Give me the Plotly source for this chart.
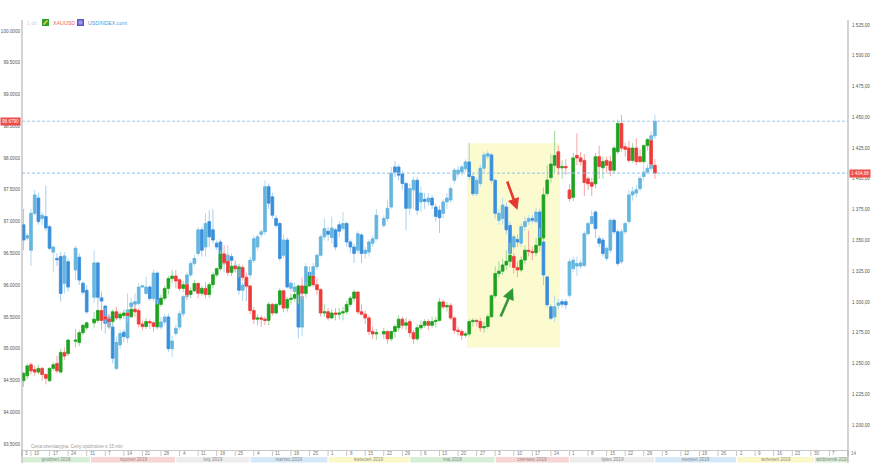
import numpy as np
import pandas as pd
import plotly.graph_objects as go

# ---------------- data ----------------
REF_DAY = np.datetime64("2018-12-10")


def day_index(d):
    return int(np.busday_count(REF_DAY, np.datetime64(pd.Timestamp(d).date())))


holidays = ["2018-12-25", "2019-01-01", "2019-04-19"]
dates = [d for d in pd.bdate_range("2018-12-06", "2019-08-01")
         if d.strftime("%Y-%m-%d") not in holidays]

gold_open = [
    1236, 1240,
    1249, 1245, 1243, 1246, 1241,
    1236, 1246, 1250, 1243, 1259,
    1258, 1268, 1267, 1275,
    1279, 1283, 1285, 1293,
    1288, 1286, 1284, 1292, 1287,
    1289, 1291, 1288, 1294, 1293,
    1282, 1280, 1284, 1283, 1280,
    1298, 1303, 1311, 1319, 1321,
    1318, 1311, 1314, 1306, 1309,
    1315, 1307, 1311, 1306, 1314,
    1322, 1327, 1339, 1333, 1324,
    1329, 1327, 1328, 1320, 1313,
    1293, 1286, 1287, 1286, 1285,
    1298, 1291, 1298, 1309, 1295,
    1302, 1303, 1306, 1313, 1307,
    1313, 1321, 1314, 1310, 1291,
    1292, 1287, 1291, 1290, 1291,
    1292, 1298, 1303, 1308, 1292,
    1290, 1287, 1276, 1274,
    1274, 1276, 1270, 1276, 1279,
    1286, 1281, 1284, 1275, 1270,
    1279, 1281, 1284, 1281, 1284,
    1285, 1300, 1296, 1297, 1287,
    1277, 1276, 1273, 1274, 1284,
    1285, 1284, 1279, 1280, 1288,
    1305, 1323, 1325, 1330, 1333,
    1337, 1328, 1326, 1334, 1342,
    1341, 1340, 1346, 1352, 1388,
    1401, 1411, 1422, 1409, 1410,
    1391, 1385, 1419, 1417, 1415,
    1400, 1397, 1396, 1418, 1409,
    1415, 1414, 1407, 1422, 1445,
    1426, 1425, 1415, 1425, 1418,
    1414, 1427, 1431, 1411,
]
gold_high = [
    1243, 1250,
    1251, 1248, 1249, 1247, 1242,
    1247, 1251, 1256, 1262, 1263,
    1270, 1278, 1277, 1282,
    1284, 1292, 1295, 1298,
    1295, 1290, 1294, 1296, 1292,
    1294, 1293, 1296, 1298, 1295,
    1285, 1287, 1286, 1284, 1302,
    1306, 1313, 1321, 1326, 1326,
    1319, 1317, 1315, 1312, 1318,
    1316, 1313, 1316, 1316, 1324,
    1328, 1342, 1346, 1339, 1332,
    1334, 1331, 1330, 1324, 1314,
    1296, 1290, 1289, 1288, 1300,
    1299, 1299, 1311, 1310, 1304,
    1307, 1309, 1314, 1320, 1316,
    1324, 1322, 1319, 1311, 1298,
    1295, 1294, 1295, 1295, 1296,
    1301, 1305, 1310, 1309, 1298,
    1293, 1289, 1280, 1278,
    1279, 1277, 1277, 1282, 1289,
    1288, 1287, 1286, 1277, 1282,
    1285, 1286, 1286, 1288, 1288,
    1303, 1302, 1300, 1299, 1288,
    1280, 1278, 1276, 1286, 1287,
    1286, 1287, 1284, 1290, 1306,
    1329, 1333, 1335, 1342, 1348,
    1340, 1333, 1337, 1346, 1358,
    1345, 1352, 1360, 1393, 1411,
    1420, 1439, 1427, 1415, 1416,
    1396, 1421, 1437, 1422, 1420,
    1402, 1401, 1421, 1427, 1418,
    1418, 1419, 1427, 1448, 1452,
    1429, 1431, 1429, 1433, 1424,
    1428, 1433, 1434, 1416,
]
gold_low = [
    1231, 1237,
    1241, 1240, 1241, 1236, 1233,
    1235, 1244, 1242, 1242, 1253,
    1256, 1263, 1264, 1273,
    1277, 1279, 1283, 1277,
    1283, 1279, 1281, 1285, 1285,
    1286, 1283, 1287, 1288, 1279,
    1277, 1278, 1278, 1276, 1279,
    1296, 1301, 1306, 1315, 1311,
    1309, 1308, 1302, 1303, 1308,
    1303, 1305, 1303, 1303, 1311,
    1320, 1325, 1330, 1321, 1321,
    1324, 1320, 1317, 1311, 1290,
    1282, 1281, 1280, 1281, 1281,
    1289, 1290, 1296, 1292, 1292,
    1298, 1300, 1298, 1302, 1305,
    1312, 1312, 1306, 1288, 1288,
    1285, 1286, 1285, 1286, 1285,
    1290, 1296, 1300, 1290, 1289,
    1282, 1273, 1270, 1269,
    1270, 1266, 1268, 1271, 1276,
    1278, 1277, 1271, 1266, 1268,
    1277, 1279, 1277, 1279, 1279,
    1284, 1294, 1292, 1285, 1274,
    1273, 1269, 1271, 1272, 1280,
    1280, 1276, 1275, 1278, 1287,
    1303, 1320, 1322, 1326, 1328,
    1323, 1320, 1324, 1331, 1337,
    1334, 1337, 1341, 1350, 1386,
    1397, 1405, 1403, 1400, 1403,
    1381, 1382, 1411, 1411, 1386,
    1391, 1386, 1392, 1400, 1400,
    1405, 1402, 1404, 1420, 1422,
    1418, 1413, 1413, 1411, 1413,
    1412, 1423, 1409, 1400,
]
gold_close = [
    1242, 1248,
    1244, 1243, 1246, 1241, 1238,
    1246, 1249, 1244, 1259, 1256,
    1269, 1269, 1275, 1281,
    1283, 1286, 1293, 1285,
    1286, 1284, 1292, 1287, 1290,
    1291, 1289, 1294, 1292, 1282,
    1280, 1284, 1283, 1280, 1298,
    1303, 1311, 1319, 1321, 1317,
    1311, 1314, 1306, 1309, 1315,
    1307, 1311, 1306, 1314, 1322,
    1327, 1339, 1332, 1324, 1329,
    1327, 1328, 1320, 1313, 1293,
    1286, 1287, 1286, 1285, 1298,
    1291, 1298, 1309, 1295, 1302,
    1303, 1306, 1313, 1307, 1313,
    1321, 1314, 1310, 1291, 1292,
    1287, 1291, 1290, 1291, 1292,
    1298, 1303, 1308, 1292, 1290,
    1287, 1276, 1274, 1275,
    1276, 1270, 1276, 1280, 1286,
    1281, 1283, 1275, 1270, 1279,
    1281, 1284, 1281, 1284, 1285,
    1300, 1296, 1297, 1287, 1277,
    1276, 1273, 1274, 1284, 1285,
    1284, 1279, 1280, 1288, 1305,
    1323, 1325, 1330, 1333, 1338,
    1328, 1326, 1334, 1342, 1341,
    1340, 1346, 1352, 1387, 1399,
    1412, 1419, 1409, 1410, 1409,
    1384, 1417, 1417, 1414, 1397,
    1396, 1394, 1418, 1410, 1414,
    1411, 1407, 1425, 1445, 1425,
    1424, 1415, 1425, 1414, 1414,
    1427, 1432, 1412, 1404.68,
]

usd_open = [
    96.95, 96.74,
    96.55, 97.13, 97.37, 97.05, 97.08,
    96.92, 96.52, 96.42, 96.45, 96.03,
    96.37, 96.24, 96.44, 96.03,
    95.92, 95.81, 96.35, 95.80,
    95.67, 95.34, 95.34, 94.69, 95.06,
    95.26, 95.17, 95.66, 95.70, 95.71,
    95.97, 95.87, 95.97, 95.79, 96.19,
    95.34, 95.42, 95.50, 95.00, 95.24,
    95.34, 95.55, 95.82, 96.16, 96.34,
    96.50, 96.87, 96.60, 97.00, 96.87,
    96.66, 96.68, 96.34, 96.24, 96.45,
    96.26, 96.29, 95.92, 96.05, 96.16,
    96.39, 96.60, 96.80, 96.84, 97.55,
    97.39, 97.05, 96.97, 96.47, 96.71,
    95.95, 95.90, 95.97, 95.34, 95.87,
    96.20, 96.08, 96.29, 96.47, 96.76,
    96.85, 96.75, 96.87, 96.95, 96.89,
    96.97, 96.68, 96.60, 96.55, 96.79,
    96.50, 96.52, 96.66, 96.73,
    96.94, 97.05, 97.23, 97.86, 97.86,
    97.75, 97.60, 97.21, 97.50, 97.65,
    97.31, 97.35, 97.31, 97.37, 97.23,
    97.18, 97.13, 97.31, 97.34, 97.65,
    97.75, 97.78, 97.83, 97.94, 97.71,
    97.44, 97.60, 97.84, 98.03, 98.05,
    97.65, 97.02, 97.05, 97.23, 96.94,
    96.60, 96.72, 96.66, 96.92, 97.00,
    97.05, 97.00, 97.15, 96.68, 96.13,
    95.66, 95.50, 95.68, 95.74, 95.74,
    95.84, 96.26, 96.30, 96.30, 96.31,
    96.81, 96.97, 97.15, 96.73, 96.71,
    96.42, 96.55, 97.02, 96.84, 96.37,
    96.84, 97.00, 97.42, 97.45, 97.52,
    97.71, 97.78, 97.84, 98.35,
]
usd_high = [
    97.20, 96.82,
    97.20, 97.50, 97.45, 97.15, 97.57,
    96.95, 96.62, 96.50, 96.52, 96.52,
    96.42, 96.62, 96.50, 96.06,
    96.00, 96.55, 96.37, 95.90,
    95.69, 95.55, 95.40, 95.19, 95.30,
    95.30, 95.87, 95.80, 95.87, 96.03,
    96.00, 96.13, 96.00, 96.25, 96.22,
    95.50, 95.55, 95.55, 95.20, 95.38,
    95.60, 95.85, 96.20, 96.38, 96.48,
    96.92, 96.92, 97.13, 97.18, 97.20,
    96.70, 96.72, 96.50, 96.63, 96.50,
    96.35, 96.32, 96.05, 96.12, 96.45,
    96.78, 96.80, 96.88, 97.65, 97.60,
    97.45, 97.10, 97.00, 96.80, 96.75,
    96.06, 96.05, 96.00, 95.85, 96.35,
    96.30, 96.35, 96.50, 96.80, 97.05,
    96.92, 97.08, 96.90, 97.00, 97.15,
    97.00, 96.72, 96.65, 96.85, 96.82,
    96.60, 96.72, 96.78, 97.20,
    97.10, 97.35, 97.86, 97.95, 97.90,
    97.80, 97.62, 97.60, 97.70, 97.70,
    97.55, 97.45, 97.45, 97.42, 97.28,
    97.25, 97.35, 97.45, 97.56, 97.85,
    97.88, 97.90, 97.98, 98.24, 97.75,
    97.70, 97.90, 98.10, 98.12, 98.08,
    97.68, 97.20, 97.38, 97.30, 97.00,
    96.80, 96.80, 96.97, 97.08, 97.10,
    97.10, 97.22, 97.20, 96.72, 96.15,
    95.70, 95.84, 95.78, 95.78, 95.78,
    96.42, 96.45, 96.45, 96.40, 96.85,
    97.00, 97.18, 97.18, 96.78, 96.75,
    96.62, 97.05, 97.05, 96.88, 96.88,
    97.00, 97.50, 97.55, 97.58, 97.72,
    97.89, 97.90, 98.42, 98.68,
]
usd_low = [
    96.55, 96.70,
    96.30, 97.10, 96.95, 96.95, 96.85,
    96.55, 96.20, 96.30, 95.74, 95.87,
    95.90, 96.08, 96.00, 95.85,
    95.55, 95.72, 95.65, 95.65,
    95.24, 95.30, 94.77, 94.66, 95.00,
    95.10, 95.09, 95.60, 95.60, 95.68,
    95.95, 95.85, 95.75, 95.75, 95.30,
    95.30, 95.38, 94.95, 94.87, 95.20,
    95.30, 95.50, 95.77, 96.12, 96.30,
    96.45, 96.45, 96.45, 96.60, 96.66,
    96.55, 96.25, 96.20, 96.20, 96.30,
    96.20, 95.85, 95.75, 95.75, 96.10,
    96.35, 96.55, 96.75, 96.79, 97.20,
    97.05, 96.90, 96.38, 96.42, 95.95,
    95.90, 95.80, 95.16, 95.20, 95.80,
    95.97, 96.00, 96.24, 96.45, 96.70,
    96.70, 96.65, 96.55, 96.75, 96.85,
    96.60, 96.50, 96.35, 96.50, 96.35,
    96.42, 96.45, 96.60, 96.70,
    96.90, 97.00, 97.20, 97.70, 97.65,
    97.50, 96.87, 97.10, 97.20, 97.10,
    97.15, 97.20, 97.25, 97.20, 97.00,
    96.82, 97.05, 97.20, 97.30, 97.60,
    97.70, 97.72, 97.78, 97.65, 97.40,
    97.40, 97.55, 97.78, 97.98, 97.60,
    97.05, 96.95, 96.95, 96.80, 96.45,
    96.55, 96.60, 96.60, 96.85, 96.95,
    96.97, 96.97, 96.70, 96.00, 95.65,
    95.45, 95.42, 95.62, 95.65, 95.62,
    95.80, 96.20, 96.15, 96.25, 96.28,
    96.78, 96.95, 96.74, 96.60, 96.45,
    96.38, 96.50, 96.80, 96.30, 96.33,
    96.80, 96.97, 97.33, 97.38, 97.48,
    97.65, 97.75, 97.80, 98.30,
]
usd_close = [
    96.71, 96.78,
    97.13, 97.42, 97.00, 97.10, 96.90,
    96.58, 96.60, 96.40, 95.87, 96.46,
    95.97, 96.58, 96.08, 95.89,
    95.58, 96.35, 95.81, 95.75,
    95.40, 95.50, 94.85, 95.10, 95.24,
    95.19, 95.61, 95.72, 95.74, 95.97,
    95.99, 95.97, 95.79, 96.19, 95.34,
    95.42, 95.50, 95.00, 95.12, 95.32,
    95.55, 95.82, 96.16, 96.34, 96.42,
    96.87, 96.55, 96.97, 96.76, 96.71,
    96.60, 96.29, 96.45, 96.47, 96.39,
    96.31, 95.92, 96.00, 95.98, 96.39,
    96.73, 96.76, 96.84, 97.55, 97.29,
    97.10, 96.94, 96.42, 96.71, 95.97,
    96.03, 95.97, 95.34, 95.82, 96.29,
    96.05, 96.29, 96.47, 96.76, 96.89,
    96.80, 96.90, 96.60, 96.85, 96.97,
    96.68, 96.60, 96.50, 96.81, 96.50,
    96.55, 96.68, 96.73, 97.10,
    97.05, 97.21, 97.76, 97.78, 97.73,
    97.60, 97.21, 97.52, 97.65, 97.18,
    97.45, 97.32, 97.37, 97.26, 97.08,
    97.06, 97.31, 97.37, 97.52, 97.81,
    97.81, 97.86, 97.94, 97.71, 97.44,
    97.65, 97.84, 98.05, 98.07, 97.65,
    97.13, 97.13, 97.26, 96.87, 96.50,
    96.76, 96.68, 96.92, 97.00, 97.05,
    97.02, 97.15, 96.73, 96.16, 95.69,
    95.48, 95.66, 95.72, 95.70, 95.69,
    96.37, 96.39, 96.34, 96.35, 96.81,
    96.97, 97.08, 96.89, 96.66, 96.50,
    96.58, 97.02, 96.84, 96.34, 96.84,
    96.97, 97.42, 97.47, 97.50, 97.68,
    97.78, 97.84, 98.35, 98.58,
]

usd_ticks = [93.5, 94.0, 94.5, 95.0, 95.5, 96.0, 96.5, 97.0, 97.5, 98.0, 98.5, 99.0, 99.5, 100.0]
gold_ticks = [1200, 1225, 1250, 1275, 1300, 1325, 1350, 1375, 1400, 1425, 1450, 1475, 1500, 1525]
usd_last_label = "98.6790"

month_names = ["grudzień 2018", "styczeń 2019", "luty 2019", "marzec 2019", "kwiecień 2019",
               "maj 2019", "czerwiec 2019", "lipiec 2019", "sierpień 2019", "wrzesień 2019",
               "październik 2019"]
month_starts = ["2018-12-01", "2019-01-01", "2019-02-01", "2019-03-01", "2019-04-01",
                "2019-05-01", "2019-06-01", "2019-07-01", "2019-08-01", "2019-09-01",
                "2019-10-01", "2019-11-01"]
month_colors = ["#d6efd6", "#f8d5d5", "#ececec", "#d6e7f7", "#fbf8c8"]

highlight_start, highlight_end = "2019-05-22", "2019-06-26"
highlight_low, highlight_high = 1263, 1429

for arr in [gold_open, gold_high, gold_low, gold_close, usd_open, usd_high, usd_low, usd_close]:
    assert len(arr) == len(dates), (len(arr), len(dates))

x_idx = [day_index(d) for d in dates]

# ---------------- figure ----------------
W, H = 878, 469
ML, MR, MT, MB = 22, 30, 20, 19
PW, PH = W - ML - MR, H - MT - MB
X_LO, X_HI = -2.42, 220.0
FONT = "Liberation Sans, Arial, sans-serif"


def px_x(px):
    return (px - ML) / PW


def px_y(py):
    return (H - MB - py) / PH


def idx_paper(i):
    return (i - X_LO) / (X_HI - X_LO)


def candles(o, h, l, c, yaxis, up_body, dn_body, up_wick, dn_wick):
    o, h, l, c = map(np.asarray, (o, h, l, c))
    wick = go.Candlestick(
        x=x_idx, open=o, high=h, low=l, close=c, yaxis=yaxis,
        increasing=dict(line=dict(color=up_wick, width=1), fillcolor=up_wick),
        decreasing=dict(line=dict(color=dn_wick, width=1), fillcolor=dn_wick),
        whiskerwidth=0, showlegend=False, hoverinfo="skip")
    body = go.Candlestick(
        x=x_idx, open=o, high=np.maximum(o, c), low=np.minimum(o, c), close=c, yaxis=yaxis,
        increasing=dict(line=dict(color=up_body, width=0.6), fillcolor=up_body),
        decreasing=dict(line=dict(color=dn_body, width=0.6), fillcolor=dn_body),
        whiskerwidth=0, showlegend=False, hoverinfo="skip")
    return [wick, body]


fig = go.Figure()
for t in candles(usd_open, usd_high, usd_low, usd_close, "y",
                 "#64b6de", "#3a8fdb", "#b3daef", "#a6cdf0"):
    fig.add_trace(t)
for t in candles(gold_open, gold_high, gold_low, gold_close, "y2",
                 "#1fa21f", "#ef3b3b", "#9dd89d", "#f6a5a5"):
    fig.add_trace(t)

shapes = []
annotations = []

# highlighted period
shapes.append(dict(type="rect", xref="x", yref="y2", layer="below",
                   x0=day_index(highlight_start) + 0.4, x1=day_index(highlight_end) + 0.4,
                   y0=highlight_low, y1=highlight_high,
                   fillcolor="#fcfbd0", line=dict(width=0)))

# last price dashed lines
shapes.append(dict(type="line", xref="paper", yref="y", x0=0, x1=1,
                   y0=usd_close[-1], y1=usd_close[-1],
                   line=dict(color="#9cc8e8", width=1, dash="3px,2px")))
shapes.append(dict(type="line", xref="paper", yref="y2", x0=0, x1=1,
                   y0=gold_close[-1], y1=gold_close[-1],
                   line=dict(color="#8ec2e8", width=1, dash="3px,2px")))


def fmt_pl(v):
    s = f"{v:,.2f}"
    return s.replace(",", " ").replace(".", ",")


annotations.append(dict(xref="paper", yref="y", x=0, y=usd_close[-1], xanchor="right",
                        yanchor="middle", xshift=-1, text=usd_last_label, showarrow=False,
                        bgcolor="#ee4b4b", borderpad=1,
                        font=dict(family=FONT, size=4.6, color="white")))
annotations.append(dict(xref="paper", yref="y2", x=1, y=gold_close[-1], xanchor="left",
                        yanchor="middle", xshift=1, text=fmt_pl(gold_close[-1]), showarrow=False,
                        bgcolor="#ee4b4b", borderpad=1,
                        font=dict(family=FONT, size=4.6, color="white")))

# arrows (in the highlighted period)
annotations.append(dict(xref="x", yref="y2", axref="x", ayref="y2",
                        x=131.0, y=1374.7, ax=128.1, ay=1399.1, text="",
                        showarrow=True, arrowhead=2, arrowsize=0.9, arrowwidth=2.6,
                        arrowcolor="#e8372f"))
annotations.append(dict(xref="x", yref="y2", axref="x", ayref="y2",
                        x=129.8, y=1311.3, ax=126.3, ay=1286.9, text="",
                        showarrow=True, arrowhead=2, arrowsize=0.9, arrowwidth=2.6,
                        arrowcolor="#2f9a35"))

# bottom day row + month row
DAY_TOP, DAY_BOT, MON_BOT = px_y(450.5), px_y(456.5), px_y(463)
shapes.append(dict(type="rect", xref="paper", yref="paper", x0=0, x1=1,
                   y0=DAY_BOT, y1=DAY_TOP, fillcolor="white",
                   line=dict(color="#c8c8c8", width=1)))
week_starts = pd.date_range("2018-12-03", "2019-10-14", freq="W-MON")
for ws in week_starts:
    i = max(day_index(ws), X_LO)
    xp = idx_paper(i)
    shapes.append(dict(type="line", xref="paper", yref="paper", x0=xp, x1=xp,
                       y0=DAY_BOT, y1=DAY_TOP, line=dict(color="#c8c8c8", width=1)))
    annotations.append(dict(xref="paper", yref="paper", x=xp, y=(DAY_TOP + DAY_BOT) / 2,
                            xanchor="left", yanchor="middle", xshift=1, text=str(ws.day),
                            showarrow=False, font=dict(family=FONT, size=4.6, color="#777777")))

for k, name in enumerate(month_names):
    a = max(day_index(month_starts[k]), X_LO)
    b = min(day_index(month_starts[k + 1]), X_HI)
    xa, xb = idx_paper(a), idx_paper(b)
    shapes.append(dict(type="rect", xref="paper", yref="paper", x0=xa, x1=xb,
                       y0=MON_BOT, y1=DAY_BOT, fillcolor=month_colors[k % 5],
                       line=dict(color="white", width=1)))
    annotations.append(dict(xref="paper", yref="paper", x=(xa + xb) / 2, y=(DAY_BOT + MON_BOT) / 2,
                            xanchor="center", yanchor="middle", text=name, showarrow=False,
                            width=max(8, (xb - xa) * PW - 2),
                            font=dict(family=FONT, size=4.6, color="#8a8a8a")))

# side rules through the bottom rows
for xp in (0, 1):
    shapes.append(dict(type="line", xref="paper", yref="paper", x0=xp, x1=xp,
                       y0=MON_BOT, y1=1.0, line=dict(color="#a8a8a8", width=1)))

# footnote
annotations.append(dict(xref="paper", yref="paper", x=px_x(29), y=px_y(446.5),
                        xanchor="left", yanchor="middle",
                        text="Cena orientacyjna. Ceny opóźnione o 15 min", showarrow=False,
                        font=dict(family=FONT, size=4.6, color="#9a9a9a")))

# top-left legend
LEG_Y = px_y(22.5)
annotations.append(dict(xref="paper", yref="paper", x=px_x(25), y=LEG_Y, xanchor="left",
                        yanchor="middle", text="1 dz.", showarrow=False,
                        font=dict(family=FONT, size=5.3, color="#d2d2d2")))
shapes.append(dict(type="rect", xref="paper", yref="paper", x0=px_x(42), x1=px_x(49),
                   y0=px_y(26), y1=px_y(19), fillcolor="#2e9e3a", line=dict(width=0)))
shapes.append(dict(type="line", xref="paper", yref="paper", x0=px_x(43.5), x1=px_x(47.5),
                   y0=px_y(24.5), y1=px_y(20.5), line=dict(color="#f2d22a", width=1.6)))
annotations.append(dict(xref="paper", yref="paper", x=px_x(51), y=LEG_Y, xanchor="left",
                        yanchor="middle", text="XAUUSD", showarrow=False,
                        font=dict(family=FONT, size=5.3, color="#f0625a")))
shapes.append(dict(type="rect", xref="paper", yref="paper", x0=px_x(77), x1=px_x(84),
                   y0=px_y(26), y1=px_y(19), fillcolor="#5c56c8", line=dict(width=0)))
shapes.append(dict(type="rect", xref="paper", yref="paper", x0=px_x(78.5), x1=px_x(82.5),
                   y0=px_y(24.5), y1=px_y(20.5), fillcolor="#9c98ee", line=dict(width=0)))
annotations.append(dict(xref="paper", yref="paper", x=px_x(86), y=LEG_Y, xanchor="left",
                        yanchor="middle", text="USDINDEX.cont", showarrow=False,
                        font=dict(family=FONT, size=5.3, color="#3f9fe0")))

fig.update_layout(
    width=W, height=H, template="none",
    margin=dict(l=ML, r=MR, t=MT, b=MB, pad=0),
    paper_bgcolor="white", plot_bgcolor="white",
    showlegend=False, hovermode=False, dragmode=False,
    boxgap=0.28, boxgroupgap=0,
    font=dict(family=FONT, size=5, color="#555555"),
    xaxis=dict(range=[X_LO, X_HI], showticklabels=False, showgrid=False, zeroline=False,
               showline=False, ticks="", rangeslider=dict(visible=False), fixedrange=True,
               automargin=False),
    yaxis=dict(range=[93.4056, 100.173], tickvals=usd_ticks,
               ticktext=[f"{v:.4f}" for v in usd_ticks], ticks="", showgrid=False,
               zeroline=False, showline=False, automargin=False, fixedrange=True,
               ticklabelstandoff=1,
               tickfont=dict(family=FONT, size=4.6, color="#555555")),
    yaxis2=dict(range=[1179.69, 1529.06], overlaying="y", side="right", tickvals=gold_ticks,
                ticktext=[fmt_pl(v) for v in gold_ticks], ticks="", showgrid=False,
                zeroline=False, showline=False, automargin=False, fixedrange=True,
                ticklabelstandoff=3,
                tickfont=dict(family=FONT, size=4.6, color="#555555")),
    shapes=shapes, annotations=annotations,
)

fig.write_html(
    "out.html",
    config={"displayModeBar": False, "staticPlot": True},
    post_script="document.body.style.margin='0';document.body.style.overflow='hidden';",
)
